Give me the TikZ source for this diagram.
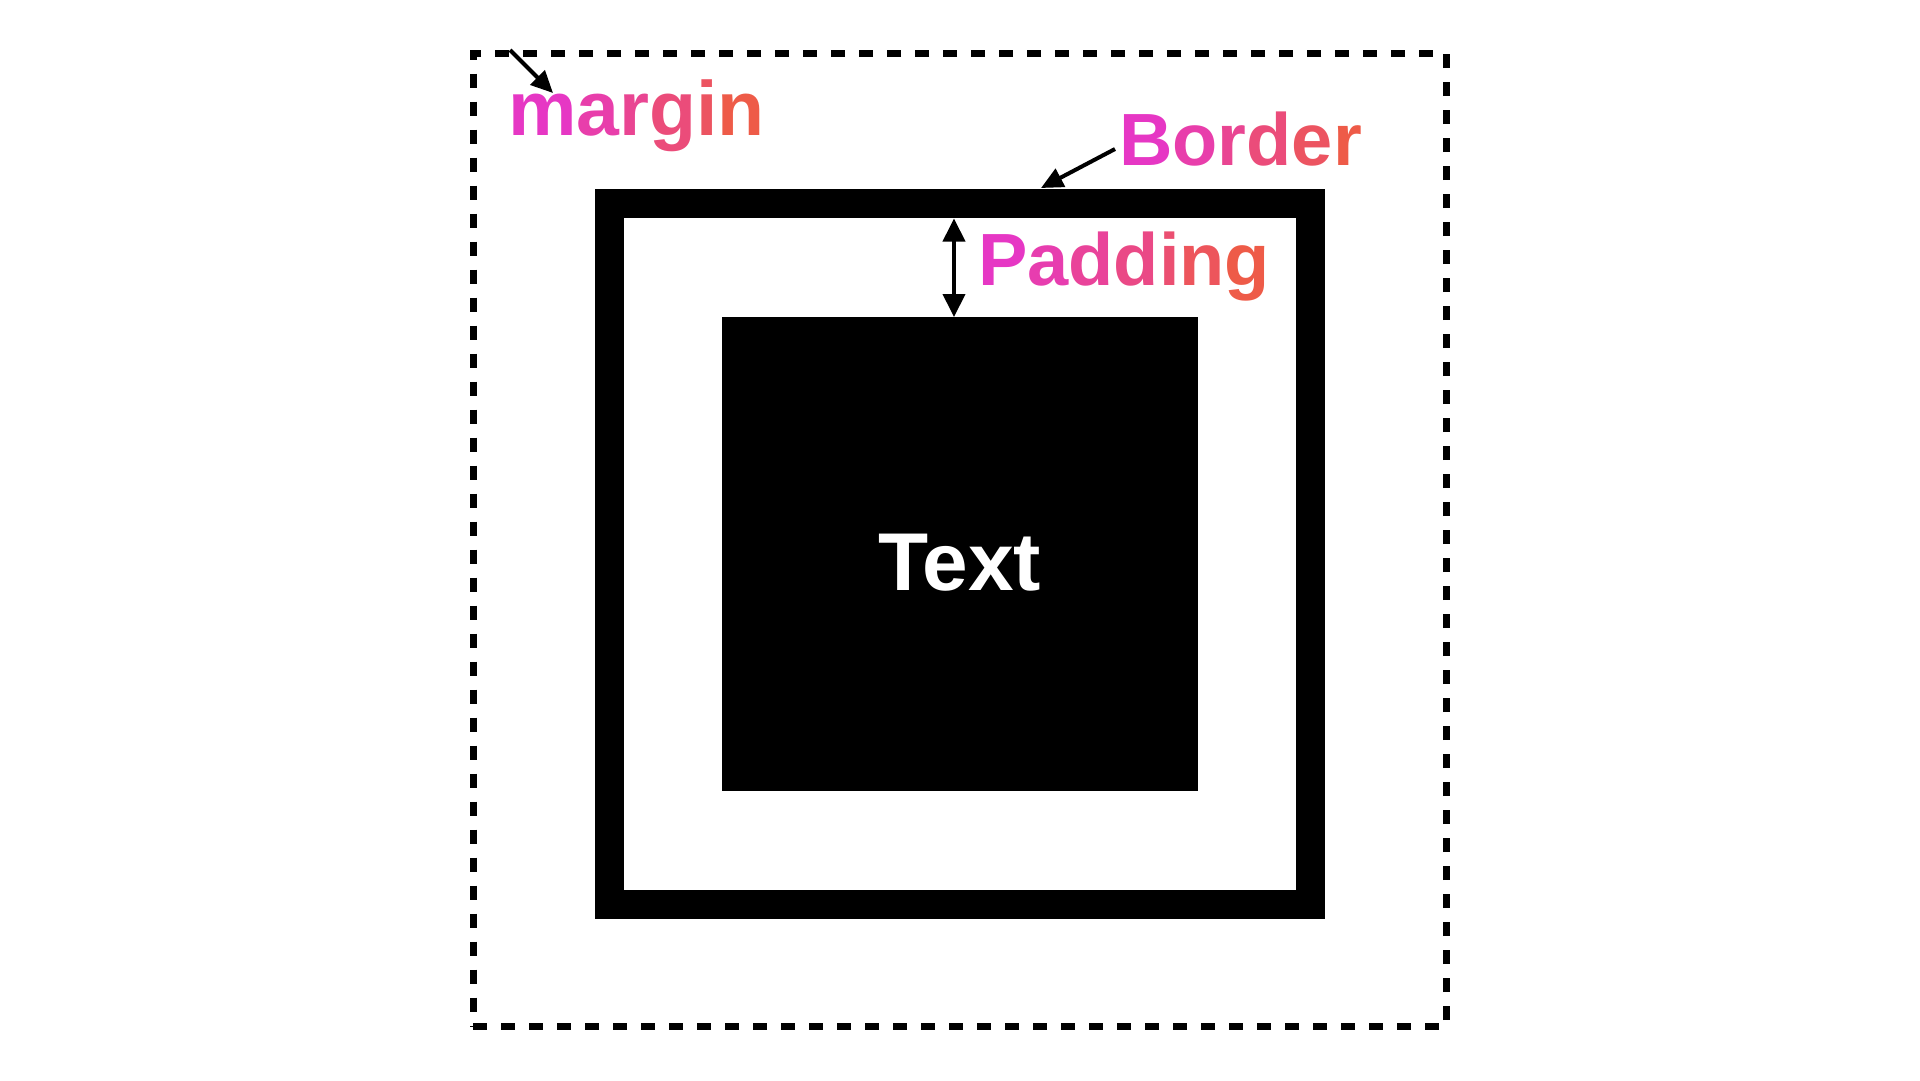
\documentclass[tikz,border=0pt]{standalone}
\usepackage{fontspec}
\setmainfont{Liberation Sans}
\usetikzlibrary{arrows.meta, positioning}
\definecolor{gradA}{HTML}{E637C4}
\definecolor{gradB}{HTML}{EE5B48}
% letter by letter colour run from gradA to gradB
\newcount\gradidx
\newcount\gradtot
\newcommand\gradtext[2]{\global\gradidx=0 \gradtot=#1\relax\gradstep#2\relax}
\def\gradstep#1{\ifx\relax#1\else
  \pgfmathtruncatemacro\gradpct{100-100*\the\gradidx/(\the\gradtot-1)}%
  \textcolor{gradA!\gradpct!gradB}{#1}\global\advance\gradidx by 1\relax
  \expandafter\gradstep\fi}
\tikzset{
marginbox/.style={draw, line width=7pt, dash pattern=on 14pt off 14pt, inner sep=0pt, outer sep=0pt}, % dashed outer edge
borderbox/.style={draw, line width=29pt, inner sep=0pt, outer sep=0pt}, % thick frame
contentbox/.style={fill=black, inner sep=0pt, outer sep=0pt},
txtlbl/.style={font=\fontsize{82}{90}\selectfont\bfseries, text=white, inner sep=0pt},
lbl/.style={font=\fontsize{74}{80}\selectfont\bfseries, inner sep=0pt, anchor=base west},
callout/.style={line width=4pt, -{Triangle[length=22pt,width=20pt]}},
twoway/.style={line width=4pt, {Triangle[length=23pt,width=22pt]}-{Triangle[length=23pt,width=22pt]}},
}
\begin{document}
\begin{tikzpicture}[x=1pt, y=-1pt]
  \useasboundingbox (0,0) rectangle (1920,1080);
  \node[marginbox, minimum width=973.5pt, minimum height=973pt] (outer) at (959.75,540) {};
  \node[borderbox, minimum width=700.5pt, minimum height=700.5pt] (frame) at (959.75,554) {};
  \node[contentbox, minimum width=476pt, minimum height=474pt] (content) at (960,554) {};
  \node[txtlbl, anchor=base] (txt) at (960,590) {Text};

  \node[lbl, font=\fontsize{77}{80}\selectfont\bfseries] (marginlbl) at (508,135) {\gradtext{6}{margin}};
  \node[lbl] (borderlbl) at (1119,165) {\gradtext{6}{Border}};
  \node[lbl] (paddinglbl) at (978,285) {\gradtext{7}{Padding}};

  \coordinate (mstart) at (510,50);
  \coordinate (mtip) at (553,93);
  \coordinate (bstart) at (1115,149);
  \coordinate (btip) at (1041,188);
  \coordinate (ptop) at (954,218.5);
  \coordinate (pbot) at (954,317);

  \draw[callout] (mstart) -- (mtip);
  \draw[callout] (bstart) -- (btip);
  \draw[twoway] (ptop) -- (pbot);
\end{tikzpicture}
\end{document}
